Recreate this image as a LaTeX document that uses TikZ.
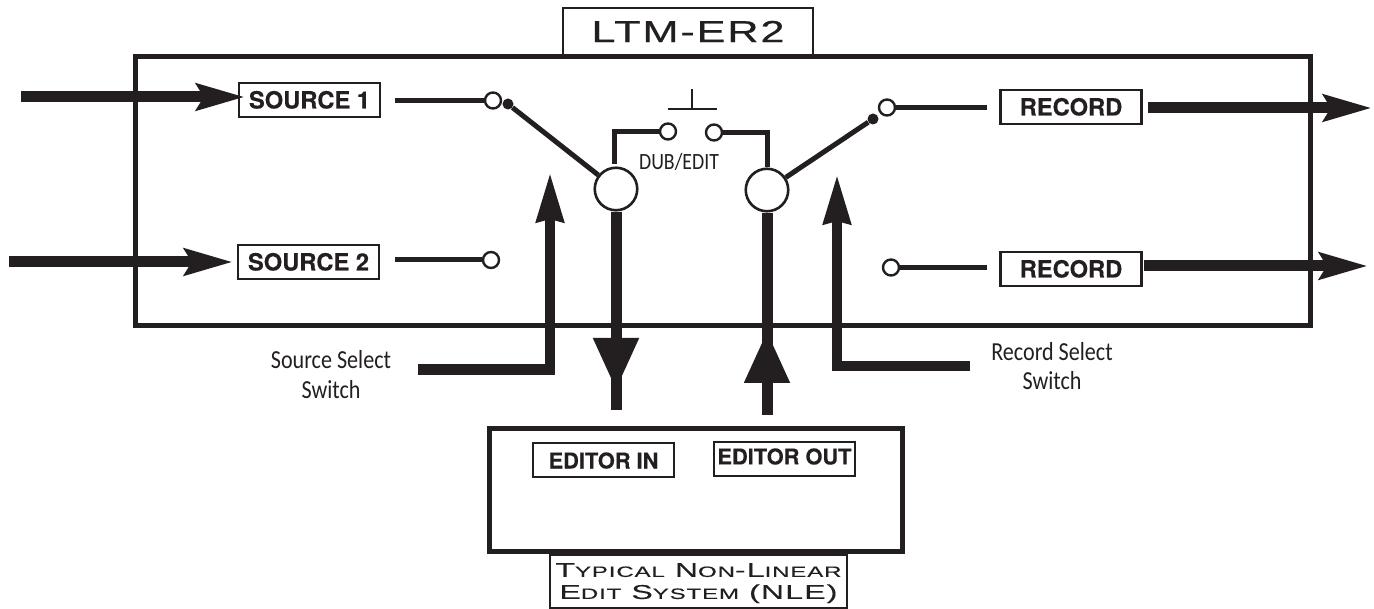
\documentclass[tikz,border=0pt]{standalone}
\usepackage{fontspec}
\usetikzlibrary{arrows.meta}
\setmainfont[BoldFeatures={FakeBold=0.3}]{TeX Gyre Heros}
\newfontfamily\widefont[FakeStretch=1.42,LetterSpace=6,FakeBold=0.5]{Liberation Sans}
\newfontfamily\capfont[FakeStretch=1.6,LetterSpace=6,FakeBold=0.3]{Liberation Sans}
\newfontfamily\narrowfont[FakeStretch=0.85]{Carlito}
\definecolor{ink}{HTML}{231F20}
\tikzset{
  x=1pt,y=-1pt,
  frame/.style={draw=ink,line width=5pt,fill=none},
  labelbox/.style={draw=ink,line width=2.6pt,fill=white,minimum width=141pt,minimum height=34pt,inner sep=0pt,text height=17pt,text depth=0pt,font=\fontsize{23.7}{26}\selectfont\bfseries,text=ink},
  editorbox/.style={labelbox,font=\fontsize{21.8}{26}\selectfont\bfseries},
  titlebox/.style={draw=ink,line width=2.2pt,fill=white,inner sep=0pt,text=ink,align=center},
  contact/.style={circle,draw=ink,line width=2.4pt,fill=white,minimum size=16pt,inner sep=0pt},
  pivot/.style={circle,draw=ink,line width=2.6pt,fill=white,minimum size=42.5pt,inner sep=0pt},
  dot/.style={circle,fill=ink,minimum size=11pt,inner sep=0pt},
  wire/.style={draw=ink,line width=5pt},
  thin wire/.style={draw=ink,line width=2.2pt},
  fat/.style={draw=ink,line width=11pt},
  flow/.style={fat,-{Stealth[length=48pt,width=26pt,inset=7pt,sep=0pt]}},
  selectflow/.style={draw=ink,line width=10.5pt,line join=miter,-{Stealth[length=49pt,width=26pt,inset=2pt,sep=0pt]}},
  bigflow/.style={fat,-{Triangle[length=52pt,width=43pt,sep=0pt]}},
  note/.style={font=\narrowfont\fontsize{26}{28}\selectfont,text=ink,inner sep=0pt},
}
\begin{document}
\begin{tikzpicture}
\useasboundingbox (0,0) rectangle (1374,609);
\fill[white] (0,0) rectangle (1374,609);
\node[frame,minimum width=1175pt,minimum height=269.5pt,inner sep=0pt] (main) at (723,191.25) {};
\node[titlebox,minimum width=250pt,minimum height=47pt,font=\widefont\fontsize{30.5}{32}\selectfont] (title) at (688,31.5) {LTM-ER2};

\node[labelbox] (s1) at (309.5,100) {SOURCE 1};
\node[labelbox] (s2) at (308.5,262) {SOURCE 2};
\node[labelbox] (r1) at (1071,107) {RECORD};
\node[labelbox] (r2) at (1071,269) {RECORD};

\coordinate (in1) at (21,97);
\coordinate (in1t) at (245,97);
\coordinate (in2) at (9,262);
\coordinate (in2t) at (233,262);
\coordinate (out1a) at (1148,108);
\coordinate (out1) at (1372,108);
\coordinate (out2a) at (1144,266);
\coordinate (out2) at (1368,266);
\draw[flow] (in1) -- (in1t);
\draw[flow] (in2) -- (in2t);
\draw[flow] (out1a) -- (out1);
\draw[flow] (out2a) -- (out2);

\node[contact] (c1) at (493,100.5) {};
\node[contact] (c2) at (491,260) {};
\node[contact] (c3) at (887,107.5) {};
\node[contact] (c4) at (891,267.5) {};
\node[contact] (d1) at (668,131.5) {};
\node[contact] (d2) at (714,132.5) {};
\node[dot] (p1) at (508,104) {};
\node[dot] (p2) at (873,119) {};
\node[pivot] (bl) at (616,189) {};
\node[pivot] (br) at (767,190) {};

\coordinate (w1) at (395,100.5);
\coordinate (w2) at (395,260);
\coordinate (w3) at (987,107.5);
\coordinate (w4) at (987,267.5);
\draw[wire] (w1) -- (c1);
\draw[wire] (w2) -- (c2);
\draw[wire] (w3) -- (c3);
\draw[wire] (w4) -- (c4);
\draw[wire] (p1) -- (bl);
\draw[wire] (p2) -- (br);
\coordinate (u1) at (614,164);
\coordinate (u2) at (767,167);
\draw[wire] (u1) |- (d1);
\draw[wire] (u2) |- (d2);

\coordinate (b1) at (667.5,109);
\coordinate (b2) at (717,109);
\coordinate (b3) at (692,89);
\coordinate (b4) at (692,109);
\draw[thin wire] (b1) -- (b2);
\draw[thin wire] (b3) -- (b4);
\node[note,font=\narrowfont\fontsize{23.3}{25}\selectfont] (dub) at (679,162) {DUB/EDIT};

\coordinate (ss0) at (418,369.5);
\coordinate (ss1) at (550,369.5);
\coordinate (ss2) at (550,172);
\draw[selectflow] (ss0) -- (ss1) -- (ss2);
\coordinate (rs0) at (970,366);
\coordinate (rs1) at (837,366);
\coordinate (rs2) at (837,174);
\draw[selectflow] (rs0) -- (rs1) -- (rs2);

\node[note] (sst) at (331,360) {Source Select};
\node[note] (ssw) at (331,390) {Switch};
\node[note] (rst) at (1052,352) {Record Select};
\node[note] (rsw) at (1052,381) {Switch};

\node[frame,minimum width=413pt,minimum height=122pt,inner sep=0pt] (nle) at (696,490) {};
\node[editorbox] (ei) at (603.5,460) {EDITOR IN};
\node[editorbox] (eo) at (784.5,459) {};
\node[font=\fontsize{21.8}{26}\selectfont\bfseries,text=ink,inner sep=0pt] (eot) at (784.5,456.5) {EDITOR OUT};
\node[titlebox,minimum width=297pt,minimum height=53pt,font=\capfont\fontsize{20}{22}\selectfont] (cap) at (698.5,581.5) {\rule{0pt}{17pt}T{\fontsize{15}{22}\selectfont YPICAL} N{\fontsize{15}{22}\selectfont ON}-L{\fontsize{15}{22}\selectfont INEAR}\\E{\fontsize{15}{22}\selectfont DIT} S{\fontsize{15}{22}\selectfont YSTEM} (NLE)};

\coordinate (dl) at (616,390);
\coordinate (dle) at (616,410);
\coordinate (ur) at (767,331);
\coordinate (ure) at (767,415);
\draw[fat] (bl) -- (dle);
\draw[bigflow] (bl) -- (dl);
\draw[fat] (ure) -- (br);
\draw[bigflow] (ure) -- (ur);
\end{tikzpicture}
\end{document}
